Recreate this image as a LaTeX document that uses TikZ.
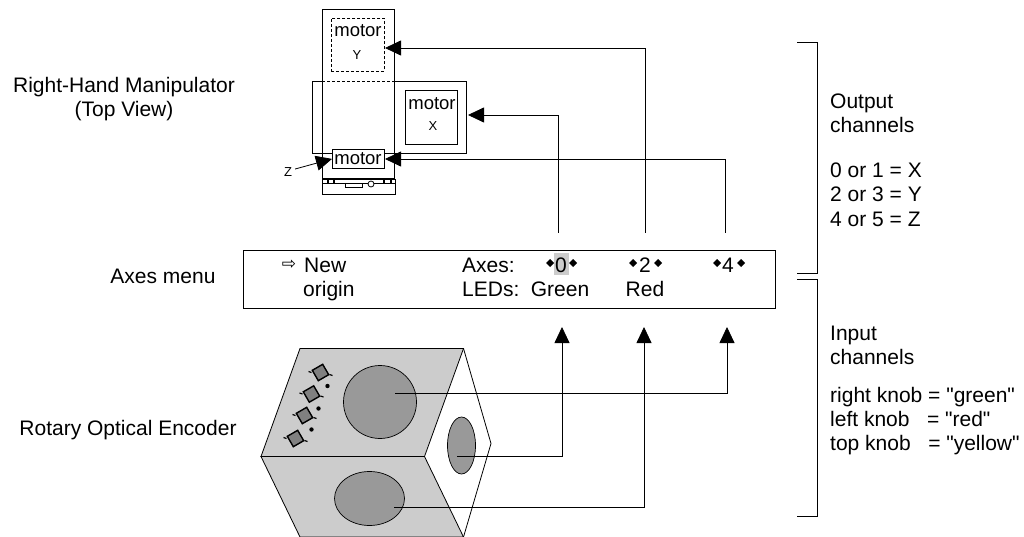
\documentclass[tikz,border=0pt]{standalone}
\usepackage{fontspec}
\setmainfont{Liberation Sans}[Ligatures=TeXOff]
\newfontfamily\symfont{DejaVu Sans}
\usetikzlibrary{arrows.meta}
\definecolor{facegray}{gray}{0.8}
\definecolor{knobgray}{gray}{0.6}
\tikzset{
  tiparrow/.style={-{Triangle[length=16pt,width=15pt]},line width=0.8pt},
  motorbox/.style={draw,line width=0.8pt,inner sep=0pt,anchor=north west},
  thinline/.style={line width=0.8pt},
  face/.style={fill=facegray,draw=black,line width=0.8pt},
  knob/.style={fill=knobgray,draw=black,line width=0.7pt},
  bigtext/.style={font=\fontsize{21}{21}\selectfont,inner sep=0pt,anchor=base},
  lefttext/.style={bigtext,anchor=base west},
  motortext/.style={font=\fontsize{18.5}{18.5}\selectfont,inner sep=0pt,anchor=base},
  smalltext/.style={font=\fontsize{13}{13}\selectfont,inner sep=0pt},
  ledsquare/.style={fill=gray,draw=black,line width=1.4pt,rotate=30,minimum size=12pt,inner sep=0pt},
}
\begin{document}
\begin{tikzpicture}[x=1pt,y=-1pt]
 	\useasboundingbox (0,0) rectangle (1024,537);
 	\draw[thinline] (322,9) rectangle (394,178);
 	\draw[thinline] (322,81) -- (312,81) -- (312,153) -- (332,153);
 	\draw[thinline] (394,81) -- (466,81) -- (466,153) -- (384,153);
 	\draw[thinline,densely dashed] (322,81) -- (394,81);
 	\node[motorbox,densely dashed,minimum width=53pt,minimum height=53pt] (motory) at (331,18) {};
 	\node[motorbox,minimum width=52pt,minimum height=54pt] (motorx) at (405,90) {};
 	\node[motorbox,fill=white,minimum width=52pt,minimum height=19pt] (motorz) at (332,149) {};
 	\node[motortext] (motorytext) at (358,37) {motor};
 	\node[smalltext] (motoryname) at (357,55) {Y};
 	\node[motortext] (motorxtext) at (432,110) {motor};
 	\node[smalltext] (motorxname) at (433,126) {X};
 	\node[motortext] (motorztext) at (358,165) {motor};
 	\node[smalltext] (zname) at (288,172) {Z};
 	\draw[thinline] (322,179) rectangle (395,183);
 	\draw[thinline] (322,183) rectangle (395,194);
 	\foreach \x in {328,334,384,391}
 	   	\draw[line width=1.2pt] (\x,179) -- (\x,183);
 	\draw[thinline] (345,183) -- (345,187) -- (362,187) -- (362,183);
 	\draw[fill=white,thinline] (371,184) circle (3pt);
 	\coordinate (toy) at (385,48);
 	\coordinate (tox) at (468,115);
 	\coordinate (toz) at (385,159);
 	\coordinate (chanzero) at (558,233);
 	\coordinate (chantwo) at (645,233);
 	\coordinate (chanfour) at (725,233);
 	\draw[tiparrow] (zname.east) ++(3,-3) -- (motorz.west);
 	\draw[tiparrow] (chantwo) |- (toy);
 	\draw[tiparrow] (chanzero) |- (tox);
 	\draw[tiparrow] (chanfour) |- (toz);
 	\node[bigtext] (manipulator) at (124,93) {Right-Hand Manipulator};
 	\node[bigtext] (topview) at (124,117) {(Top View)};
 	\node[bigtext] (axesmenu) at (163,283) {Axes menu};
 	\node[bigtext] (encoder) at (128,435) {Rotary Optical Encoder};
 	\draw[thinline] (243,250) rectangle (775,308);
 	\fill[facegray] (554,253) rectangle (569,275);
 	\node[font=\symfont\fontsize{17}{17}\selectfont,inner sep=0pt] (pointer) at (289,265) {⇨};
 	\node[lefttext] (newtext) at (304,272) {New};
 	\node[lefttext] (origintext) at (303,296) {origin};
 	\node[lefttext] (axestext) at (462,272) {Axes:};
 	\node[lefttext] (ledstext) at (462,296) {LEDs:};
 	\node[bigtext] (zero) at (561,272) {0};
 	\node[bigtext] (two) at (645,272) {2};
 	\node[bigtext] (four) at (728,272) {4};
 	\node[bigtext] (greentext) at (560,296) {Green};
 	\node[bigtext] (redtext) at (645,296) {Red};
 	\foreach \x in {550,573,633,658,717,741}
 	   	\fill (\x-4,263) -- ++(4,-4) -- ++(4,4) -- ++(-4,4) -- cycle;
 	\draw[face] (300,348.5) -- (463.5,348.5) -- (424.5,456.5) -- (261,456.5) -- cycle;
 	\draw[face] (261,456.5) -- (424.5,456.5) -- (463.5,537) -- (300,537) -- cycle;
 	\draw[thinline] (463.5,348.5) -- (491,443.5) -- (463.5,537);
 	\draw[line width=1.3pt] (261,456.5) -- (424.5,456.5);
 	\draw[knob] (380,402) circle (36.5pt);
 	\draw[knob] (461.5,445.5) ellipse (14pt and 28.5pt);
 	\draw[knob] (369.5,498.5) ellipse (35pt and 27pt);
 	\foreach \x/\y in {320.5/372.5,311.5/394,304.5/415.5,295.5/438.5}{
 	   	\node[ledsquare] at (\x,\y) {};
 	   	\draw[line width=1.2pt] (\x-12,\y-1) -- ++(3,1);
 	   	\draw[line width=1.2pt] (\x+9,\y+2) -- ++(3,1);
 	}
 	\foreach \x/\y in {327.5/386,318.5/408.5,311.5/429.5}
 	   	\fill (\x,\y) circle (2.2pt);
 	\coordinate (rightknob) at (395,393);
 	\coordinate (sideknob) at (457,456);
 	\coordinate (bottomknob) at (394,507);
 	\coordinate (tipzero) at (562,327);
 	\coordinate (tiptwo) at (644,327);
 	\coordinate (tipfour) at (727,327);
 	\draw[tiparrow] (rightknob) -| (tipfour);
 	\draw[tiparrow] (sideknob) -| (tipzero);
 	\draw[tiparrow] (bottomknob) -| (tiptwo);
 	\draw[thinline] (797,42) -- (817,42) -- (817,273) -- (797,273);
 	\draw[thinline] (797,279) -- (817,279) -- (817,516) -- (797,516);
 	\foreach \n/\y/\t in {outputword/109/Output,outputchan/133/channels,axisx/178/0 or 1 = X,axisy/202/2 or 3 = Y,axisz/226/4 or 5 = Z,inputword/340/Input,inputchan/364/channels,knobright/402/right knob = "green",knobleft/426/left knob\ \ \ = "red",knobtop/450/top knob\ \ \ = "yellow"}
 	   	\node[lefttext] (\n) at (830,\y) {\t};
 	\end{tikzpicture}
\end{document}
